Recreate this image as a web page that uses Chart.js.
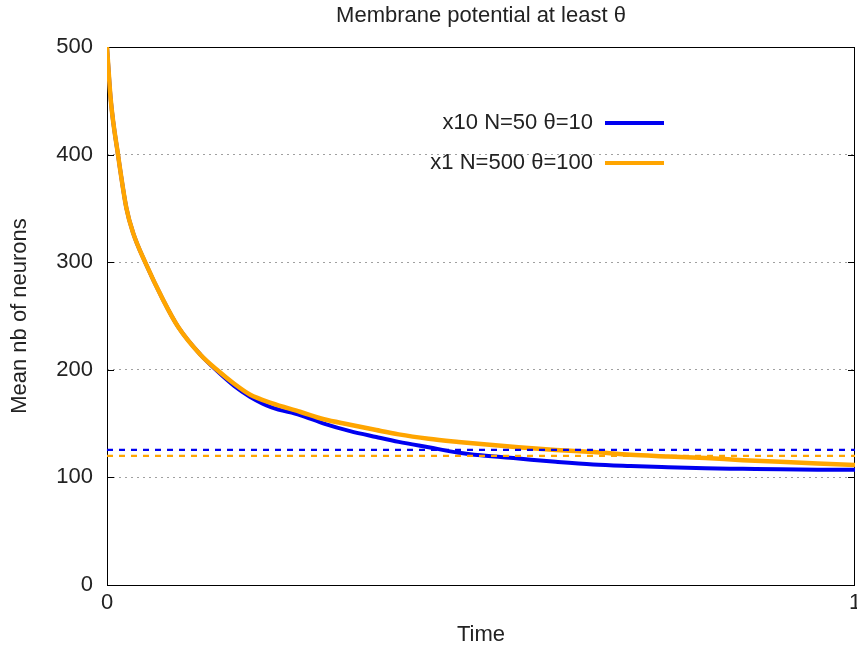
<!DOCTYPE html>
<html>
<head>
<meta charset="utf-8">
<script src="https://cdn.jsdelivr.net/npm/chart.js@4.4.0/dist/chart.umd.min.js"></script>
<style>
  html, body { margin: 0; padding: 0; background: #fff; }
  #wrap { width: 857px; height: 648px; }
</style>
</head>
<body>
<div id="wrap"><canvas id="chart"></canvas></div>
<script>
// ---- data ----
const timeVals = [0, 0.005, 0.0147, 0.026, 0.035, 0.051, 0.075, 0.095, 0.125, 0.147, 0.17, 0.191,
  0.22, 0.258, 0.29, 0.325, 0.36, 0.39, 0.43, 0.47, 0.5, 0.55, 0.6, 0.65, 0.7, 0.75, 0.8, 0.85, 0.9, 0.95, 1];
const blueVals = [500, 451, 400, 350, 327, 300, 265, 240, 214, 199, 185, 175,
  165, 158, 150, 143, 137.5, 133, 128, 123, 120.5, 117.5, 114.5, 112, 110.6, 109.5, 108.5, 108, 107.5, 107.2, 107];
const orangeVals = [500, 451, 400, 350, 327, 300, 265, 240, 214, 200, 187, 177,
  169, 161, 154, 149, 144, 140, 136, 133, 131, 128, 125.5, 123.5, 121, 119.5, 118, 116, 114.5, 113, 111.5];
const levelTimes = [0, 1];
const blueLevel = [125.5, 125.5];
const orangeLevel = [120, 120];
const xTicks = [0, 1];
const yTicks = [0, 100, 200, 300, 400, 500];
const seriesLabels = ["x10 N=50 θ=10", "x1 N=500 θ=100"];

const BLUE = "#0000f0";
const ORANGE = "#ffa500";
const FONT = "'Liberation Sans', Arial, sans-serif";
const FSIZE = 22;

function pts(xs, ys) {
  return xs.map((x, i) => ({ x: x, y: ys[i] }));
}

// frame, inner ticks, title and legend (gnuplot style)
const decor = {
  id: "decor",
  beforeDatasetsDraw(chart) {
    const { ctx, chartArea: a, scales } = chart;
    ctx.save();
    ctx.strokeStyle = "#000";
    ctx.lineWidth = 1;
    ctx.strokeRect(a.left + 0.5, a.top + 0.5, a.right - a.left - 1, a.bottom - a.top);
    ctx.beginPath();
    yTicks.forEach((v) => {
      const y = Math.round(scales.y.getPixelForValue(v)) + 0.5;
      ctx.moveTo(a.left, y); ctx.lineTo(a.left + 7, y);
      ctx.moveTo(a.right, y); ctx.lineTo(a.right - 7, y);
    });
    ctx.stroke();
    ctx.restore();
  },
  afterDraw(chart) {
    const { ctx, chartArea: a } = chart;
    ctx.save();
    ctx.fillStyle = "#222";
    ctx.font = FSIZE + "px " + FONT;
    ctx.textAlign = "center";
    ctx.textBaseline = "middle";
    ctx.fillText("Membrane potential at least θ", (a.left + a.right) / 2, 16);

    // legend
    const colors = [BLUE, ORANGE];
    const rows = [123, 163];
    ctx.textAlign = "right";
    seriesLabels.forEach((lab, i) => {
      ctx.fillStyle = "#222";
      ctx.fillText(lab, 593, rows[i]);
      ctx.strokeStyle = colors[i];
      ctx.lineWidth = 4;
      ctx.beginPath();
      ctx.moveTo(605, rows[i]);
      ctx.lineTo(664, rows[i]);
      ctx.stroke();
    });
    ctx.restore();
  }
};

const ctx = document.getElementById("chart").getContext("2d");
const chart = new Chart(ctx, {
  type: "line",
  data: {
    datasets: [
      {
        label: seriesLabels[0],
        data: pts(timeVals, blueVals),
        borderColor: BLUE,
        borderWidth: 4,
        order: 2
      },
      {
        label: seriesLabels[1],
        data: pts(timeVals, orangeVals),
        borderColor: ORANGE,
        borderWidth: 4.5,
        order: 1
      },
      {
        label: "blue level",
        data: pts(levelTimes, blueLevel),
        borderColor: BLUE,
        borderWidth: 2.2,
        borderDash: [6, 6],
        order: 0
      },
      {
        label: "orange level",
        data: pts(levelTimes, orangeLevel),
        borderColor: ORANGE,
        borderWidth: 2.2,
        borderDash: [6, 6],
        order: 0
      }
    ]
  },
  options: {
    responsive: true,
    maintainAspectRatio: false,
    animation: false,
    devicePixelRatio: 1,
    layout: { padding: { top: 47, right: 2, left: 0, bottom: 0 } },
    elements: {
      point: { radius: 0 },
      line: { tension: 0.3, cubicInterpolationMode: "monotone", fill: false }
    },
    plugins: {
      legend: { display: false },
      tooltip: { enabled: false }
    },
    scales: {
      x: {
        type: "linear",
        min: 0,
        max: 1,
        afterBuildTicks: (s) => { s.ticks = xTicks.map((v) => ({ value: v })); },
        afterFit: (s) => { s.height = 63; s.paddingLeft = 0; s.paddingRight = 0; },
        grid: { display: false, drawTicks: false },
        border: { display: false },
        ticks: { color: "#222", font: { size: FSIZE, family: FONT }, padding: 5, maxRotation: 0 },
        title: { display: true, text: "Time", color: "#222", font: { size: FSIZE, family: FONT }, padding: { top: 2, bottom: 0 } }
      },
      y: {
        min: 0,
        max: 500,
        afterBuildTicks: (s) => { s.ticks = yTicks.map((v) => ({ value: v })); },
        afterFit: (s) => { s.width = 107; s.paddingTop = 0; s.paddingBottom = 0; },
        grid: {
          drawTicks: false,
          color: (c) => (c.tick && (c.tick.value === 0 || c.tick.value === 500)) ? "rgba(0,0,0,0)" : "#a0a0a0",
          lineWidth: 1
        },
        border: { display: false, dash: [2, 4] },
        ticks: { color: "#222", font: { size: FSIZE, family: FONT }, padding: 14 },
        title: { display: true, text: "Mean nb of neurons", color: "#222", font: { size: FSIZE, family: FONT }, padding: { top: 7, bottom: 0 } }
      }
    }
  },
  plugins: [decor]
});
</script>
</body>
</html>
